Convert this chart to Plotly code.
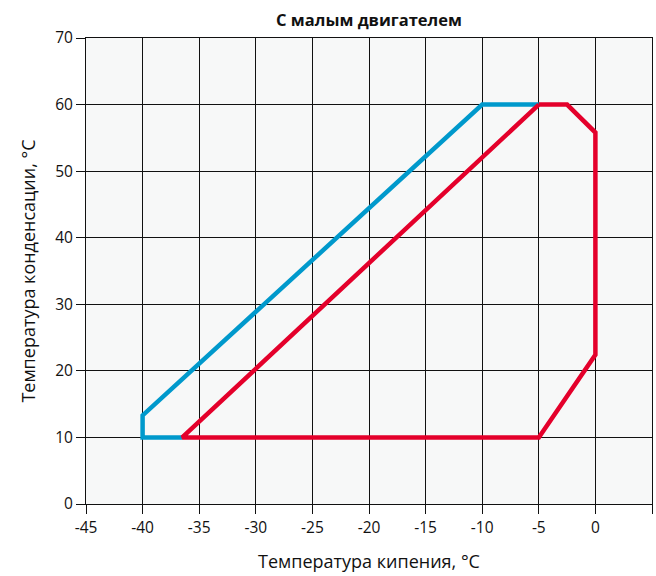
import plotly.graph_objects as go

# Operating envelope boundaries (evaporating temp, condensing temp), °C
blue_x = [-36.5, -40, -40, -10, -5]
blue_y = [10, 10, 13.3, 60, 60]

red_x = [-5, -2.5, 0, 0, -5, -36.5, -5]
red_y = [60, 60, 55.8, 22.4, 10, 10, 60]

x_ticks = [-45, -40, -35, -30, -25, -20, -15, -10, -5, 0, 5]
y_ticks = [0, 10, 20, 30, 40, 50, 60, 70]

FONT = "Open Sans"

fig = go.Figure()
fig.add_trace(go.Scatter(x=blue_x, y=blue_y, mode="lines",
                         line=dict(color="#0099cc", width=4.5),
                         hoverinfo="skip", showlegend=False))
fig.add_trace(go.Scatter(x=red_x, y=red_y, mode="lines",
                         line=dict(color="#e4002b", width=4.5),
                         hoverinfo="skip", showlegend=False))

fig.update_layout(
    width=656, height=576,
    margin=dict(l=86, r=4, t=38, b=72),
    paper_bgcolor="white",
    plot_bgcolor="#f7f8f8",
    font=dict(family=FONT, size=15, color="#111"),
    title=dict(text="<b>С малым двигателем</b>", x=0.5, xanchor="center",
               xref="paper", y=0.965, yanchor="middle",
               font=dict(family=FONT, size=16.5, color="#111")),
    xaxis=dict(range=[-45, 5], tickvals=x_ticks, ticktext=[str(v) for v in x_ticks],
               showgrid=True, gridcolor="#111", gridwidth=1,
               showline=True, linecolor="#111", linewidth=1, mirror=True,
               ticks="outside", ticklen=9, tickcolor="#111",
               tickfont=dict(size=15.5),
               zeroline=False,
               title=dict(text="Температура кипения, °C", font=dict(size=18), standoff=18),
               fixedrange=True),
    yaxis=dict(range=[0, 70], tickvals=y_ticks, ticktext=[str(v) for v in y_ticks],
               showgrid=True, gridcolor="#111", gridwidth=1,
               showline=True, linecolor="#111", linewidth=1, mirror=True,
               ticks="outside", ticklen=9, tickcolor="#111",
               tickfont=dict(size=15.5),
               zeroline=False,
               title=dict(text="Температура конденсации, °C", font=dict(size=18), standoff=14),
               fixedrange=True),
)

fig.write_html("out.html")
